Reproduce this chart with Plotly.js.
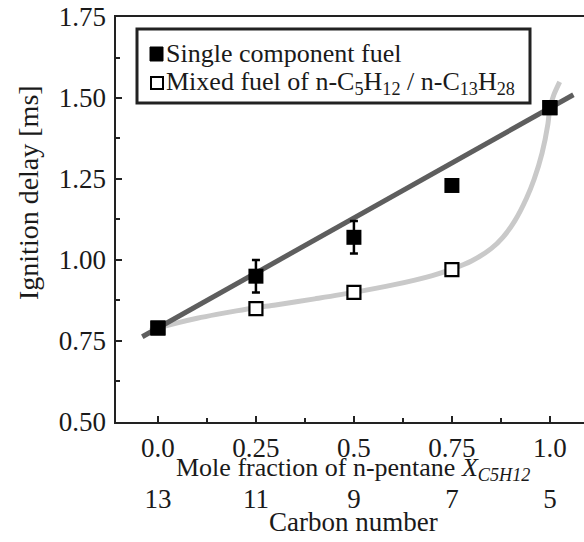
<!DOCTYPE html>
<html>
<head>
<meta charset="utf-8">
<script src="https://cdn.plot.ly/plotly-3.0.1.min.js"></script>
<style>html,body{margin:0;padding:0;background:#fff;}#chart{width:584px;height:542px;}</style>
</head>
<body>
<div id="chart"></div>
<script>
// ---- data ----
const moleFraction = [0.0, 0.25, 0.5, 0.75, 1.0];
const singleDelay = [0.79, 0.95, 1.07, 1.23, 1.47];
const singleErr = [0, 0.05, 0.05, 0, 0];
const mixedDelay = [0.79, 0.85, 0.90, 0.97, 1.47];
const fitX = [-0.04, 1.06];
const fitY = [0.763, 1.51];
const curveX = [-0.02, 0.0, 0.05, 0.1, 0.15, 0.2, 0.25, 0.3, 0.4, 0.5, 0.6, 0.7, 0.75, 0.8, 0.85, 0.88, 0.91, 0.94, 0.96, 0.98, 0.995, 1.0, 1.01, 1.025];
const curveY = [0.783, 0.79, 0.806, 0.82, 0.832, 0.843, 0.853, 0.861, 0.88, 0.90, 0.923, 0.952, 0.972, 0.997, 1.035, 1.07, 1.12, 1.19, 1.25, 1.33, 1.42, 1.47, 1.51, 1.55];
const xTickVals = [0, 0.25, 0.5, 0.75, 1.0];
const xTickText = ['0.0', '0.25', '0.5', '0.75', '1.0'];
const carbonText = ['13', '11', '9', '7', '5'];
const yTickVals = [0.5, 0.75, 1.0, 1.25, 1.5, 1.75];
const yTickText = ['0.50', '0.75', '1.00', '1.25', '1.50', '1.75'];
const legendLabels = ['Single component fuel', 'Mixed fuel of n-C<sub>5</sub>H<sub>12</sub> / n-C<sub>13</sub>H<sub>28</sub>'];

const FONT = 'Liberation Serif, Times New Roman, serif';
const INK = '#1a1a1a';

const traces = [
  {x: curveX, y: curveY, mode: 'lines', line: {color: '#c9c9c9', width: 5, shape: 'spline', smoothing: 0.8}, showlegend: false, hoverinfo: 'skip'},
  {x: fitX, y: fitY, mode: 'lines', line: {color: '#5e5e5e', width: 5}, showlegend: false, hoverinfo: 'skip'},
  {x: moleFraction, y: mixedDelay, mode: 'markers', name: legendLabels[1], showlegend: false,
   marker: {symbol: 'square', size: 13, color: '#ffffff', line: {color: '#000', width: 2.2}}},
  {x: moleFraction, y: singleDelay, mode: 'markers', name: legendLabels[0], showlegend: false,
   marker: {symbol: 'square', size: 15, color: '#000'},
   error_y: {type: 'data', array: singleErr, visible: true, color: '#000', thickness: 2.5, width: 4}},
  // invisible trace so the carbon-number axis renders
  {x: [0], y: [0.5], xaxis: 'x2', yaxis: 'y', mode: 'markers', marker: {opacity: 0}, showlegend: false, hoverinfo: 'skip'}
];

// pixel -> paper helpers (plot area: l=116, w=468, t=17, paper h=520)
const px = v => (v - 116) / 468;
const py = v => 1 - (v - 17) / 520;

const layout = {
  width: 584, height: 542,
  margin: {l: 116, r: 0, t: 17, b: 5},
  paper_bgcolor: '#fff', plot_bgcolor: '#fff',
  font: {family: FONT, size: 27, color: INK},
  showlegend: false,
  xaxis: {range: [-0.107, 1.087], tickvals: xTickVals, ticktext: xTickText,
          showgrid: false, zeroline: false, showline: true, linecolor: '#222', linewidth: 2.5, mirror: true,
          ticks: 'inside', ticklen: 6, tickwidth: 2, tickcolor: '#222',
          minor: {dtick: 0.125, ticks: 'inside', ticklen: 4, tickwidth: 2, tickcolor: '#222', showgrid: false},
          tickfont: {family: FONT, size: 27, color: INK}, anchor: 'y'},
  xaxis2: {range: [-0.107, 1.087], overlaying: 'x', side: 'bottom', anchor: 'free', position: 0.11,
           tickvals: xTickVals, ticktext: carbonText, showgrid: false, zeroline: false, showline: false, ticks: '',
           tickfont: {family: FONT, size: 27, color: INK}},
  yaxis: {domain: [0.2212, 1], range: [0.5, 1.75], tickvals: yTickVals, ticktext: yTickText,
          showgrid: false, zeroline: false, showline: true, linecolor: '#222', linewidth: 2.5,
          ticks: 'inside', ticklen: 6, tickwidth: 2, tickcolor: '#222',
          minor: {dtick: 0.125, ticks: 'inside', ticklen: 4, tickwidth: 2, tickcolor: '#222', showgrid: false},
          tickfont: {family: FONT, size: 27, color: INK}, ticklabelstandoff: 2},
  shapes: [
    {type: 'rect', xref: 'paper', yref: 'paper', x0: px(137), x1: px(530), y0: py(103), y1: py(29),
     line: {color: '#222', width: 3}, fillcolor: '#fff', layer: 'above'},
    {type: 'rect', xref: 'paper', yref: 'paper', x0: px(150), x1: px(163), y0: py(61), y1: py(47),
     line: {color: '#000', width: 1}, fillcolor: '#000', layer: 'above'},
    {type: 'rect', xref: 'paper', yref: 'paper', x0: px(151), x1: px(163), y0: py(89), y1: py(77),
     line: {color: '#000', width: 2}, fillcolor: '#fff', layer: 'above'}
  ],
  annotations: [
    {text: 'Ignition delay [ms]', xref: 'paper', yref: 'paper', x: px(28), y: py(193),
     xanchor: 'center', yanchor: 'middle', textangle: -90, showarrow: false,
     font: {family: FONT, size: 28, color: INK}},
    {text: 'Mole fraction of n-pentane <i>X<sub>C5H12</sub></i>', xref: 'paper', yref: 'paper', x: px(353), y: py(469),
     xanchor: 'center', yanchor: 'middle', showarrow: false, font: {family: FONT, size: 26, color: INK}},
    {text: 'Carbon number', xref: 'paper', yref: 'paper', x: px(353), y: py(522),
     xanchor: 'center', yanchor: 'middle', showarrow: false, font: {family: FONT, size: 27, color: INK}},
    {text: legendLabels[0], xref: 'paper', yref: 'paper', x: px(164), y: py(54),
     xanchor: 'left', yanchor: 'middle', showarrow: false, font: {family: FONT, size: 26, color: INK}},
    {text: legendLabels[1], xref: 'paper', yref: 'paper', x: px(164), y: py(83),
     xanchor: 'left', yanchor: 'middle', showarrow: false, font: {family: FONT, size: 26, color: INK}}
  ]
};

Plotly.newPlot('chart', traces, layout, {displayModeBar: false, staticPlot: true});
</script>
</body>
</html>
